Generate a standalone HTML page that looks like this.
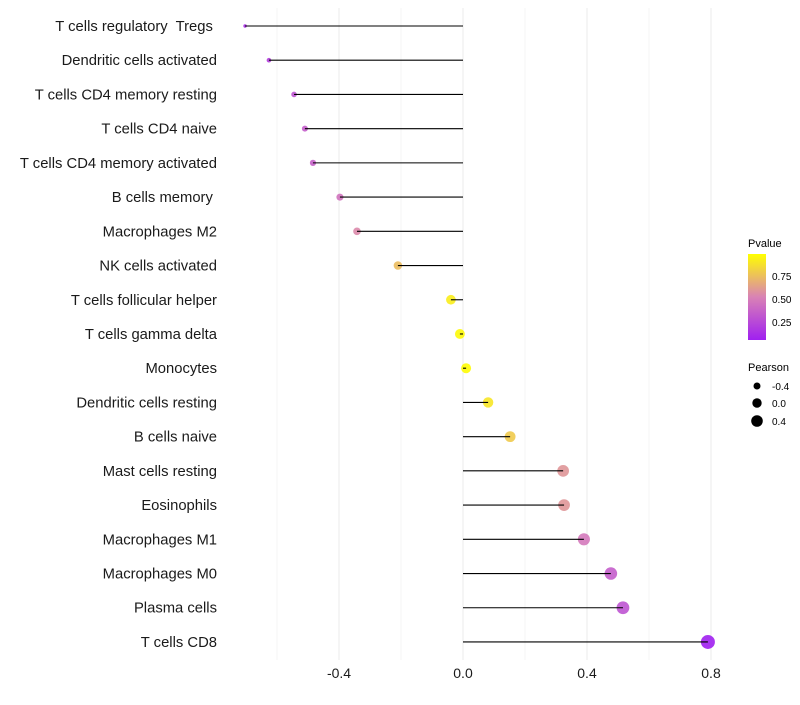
<!DOCTYPE html>
<html><head><meta charset="utf-8"><style>
body{margin:0;background:#fff;font-family:"Liberation Sans",sans-serif}
text{white-space:pre}
</style></head><body>
<svg id="chart" width="800" height="700" xmlns="http://www.w3.org/2000/svg">
<defs><linearGradient id="pg" x1="0" y1="1" x2="0" y2="0">
<stop offset="0" stop-color="#a020f0"/><stop offset="0.5" stop-color="#d982b5"/><stop offset="1" stop-color="#ffff00"/></linearGradient></defs>
<g id="grid"></g><g id="points"></g><g id="marks"></g><g id="labels"></g>
<g font-size="10">
<text x="748" y="247" font-size="11">Pvalue</text>
<rect x="748" y="254" width="18" height="86" fill="url(#pg)"/>
<text x="772" y="280">0.75</text><text x="772" y="303">0.50</text><text x="772" y="326">0.25</text>
</g>
<g font-size="10">
<text x="748" y="371" font-size="11">Pearson</text>
<circle cx="757" cy="386" r="3.5"/><text x="772" y="390">-0.4</text>
<circle cx="757" cy="403" r="4.7"/><text x="772" y="407">0.0</text>
<circle cx="757" cy="421" r="5.8"/><text x="772" y="425">0.4</text>
</g>
</svg>
<script>
const categories=["T cells regulatory  Tregs ","Dendritic cells activated","T cells CD4 memory resting","T cells CD4 naive","T cells CD4 memory activated","B cells memory ","Macrophages M2","NK cells activated","T cells follicular helper","T cells gamma delta","Monocytes","Dendritic cells resting","B cells naive","Mast cells resting","Eosinophils","Macrophages M1","Macrophages M0","Plasma cells","T cells CD8"];
const pearson=[-0.703,-0.626,-0.545,-0.51,-0.484,-0.397,-0.342,-0.21,-0.039,-0.01,0.01,0.081,0.152,0.323,0.326,0.39,0.477,0.516,0.79];
const pvalue=[0.12,0.2,0.3,0.35,0.36,0.45,0.55,0.75,0.93,0.98,0.99,0.9,0.8,0.6,0.6,0.48,0.35,0.3,0.05];
const xTicks=[-0.4,0.0,0.4,0.8];
const NS="http://www.w3.org/2000/svg";
const x=v=>463+v*310;
const y=i=>26+i*34.22;
const pmin=0.05,pmax=1.0;
function lerp(a,b,t){return a.map((c,k)=>Math.round(c+(b[k]-c)*t));}
function col(p){let t=Math.max(0,Math.min(1,(p-pmin)/(pmax-pmin)));const A=[160,32,240],M=[217,130,181],B=[255,255,0];
const c=t<0.5?lerp(A,M,t*2):lerp(M,B,(t-0.5)*2);return `rgb(${c})`;}
const vmin=Math.min(...pearson),vmax=Math.max(...pearson);
const rad=v=>Math.sqrt(3+(v-vmin)/(vmax-vmin)*46);
function mk(tag,at,parent){const e=document.createElementNS(NS,tag);for(const k in at)e.setAttribute(k,at[k]);parent.appendChild(e);return e;}
const grid=document.getElementById('grid'),marks=document.getElementById('marks'),labels=document.getElementById('labels'),points=document.getElementById('points');
for(let k=-3;k<=4;k++){const g=k*0.2;const l=mk('line',{x1:x(g),x2:x(g),y1:8,y2:660,stroke:(k%2===0)?'#ebebeb':'#f4f4f4','stroke-width':1},grid);

}
xTicks.forEach(t=>{const e=mk('text',{x:x(t),y:678,'text-anchor':'middle','font-size':14,fill:'#1a1a1a'},labels);e.textContent=t.toFixed(1);

});
categories.forEach((c,i)=>{
const t=mk('text',{x:217,y:y(i)+5,'text-anchor':'end','font-size':14.8,fill:'#1a1a1a'},labels);t.textContent=c;


const p=mk('circle',{cx:x(pearson[i]),cy:y(i),r:rad(pearson[i]),fill:col(pvalue[i]),'fill-opacity':0.9},points);


const l=mk('line',{x1:x(0),x2:x(pearson[i]),y1:y(i),y2:y(i),stroke:'#000','stroke-width':1.1},marks);


});
</script>
</body></html>
